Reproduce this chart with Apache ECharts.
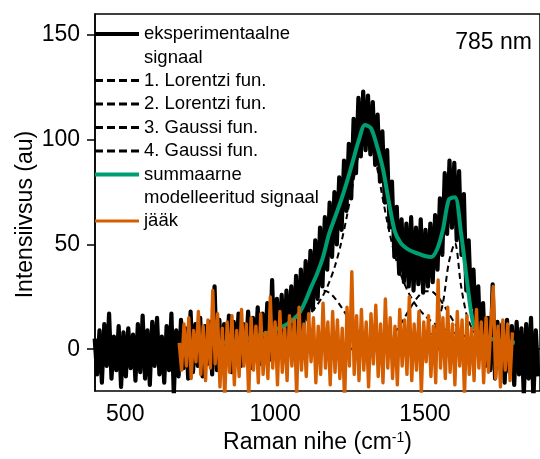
<!DOCTYPE html>
<html><head><meta charset="utf-8">
<script src="https://cdn.jsdelivr.net/npm/echarts@6/dist/echarts.min.js"></script>
<style>html,body{margin:0;padding:0;background:#fff}#c{width:540px;height:459px}</style>
</head><body><div id="c"></div>
<script>
const FONT = "'Liberation Sans', Arial, Helvetica, sans-serif";

// ---- experimental signal (x = expStart + i*expStep) ----
const expStart = 398, expStep = 8;
const expValues = [
  5,-12,9,-16,12,-8,17,-14,6,-10, 11,-18,8,-13,10,-9,7,-15,12,-11, 16,-14,9,-17,13,-8,15,-12,6,-16, 11,-10,17,-22,9,
  -13,14,-9,10,-14,18,-11,12,-8,15,-13,11,-7,13,-12,
  30,-10,14,-9,12,-6,16,-11,13,-5,
  17,-8,12,-4,18,-9,15,-3,20,-7,
  17,0,22,-5,33,-3,24,1,26,-2,
  28,4,30,3,35,6,38,9,42,14,
  47,19,52,24,58,30,63,38,70,44,
  75,50,82,57,90,66,98,72,110,84,
  120,92,123,95,121,93,118,88,112,80,
  104,70,95,58,80,44,68,36,62,32,
  60,30,63,28,58,31,62,27,57,30,
  60,32,64,38,72,45,84,55,90,58,
  89,52,85,45,74,28,52,20,38,8,
  30,-2,22,-8,15,-10,31,-14,13,-9,
  12,-16,14,-11,11,-17,13,-12,10,-22,
  12,-14,15,-24,9,-13
];

// ---- fit components and model (x = fitStart + i*fitStep) ----
const fitStart = 680, fitStep = 20;
const lorentz1 = [
  1.81,1.93,2.06,2.21,2.37,2.55,2.75,2.97,3.23,3.51,
  3.83,4.21,4.64,5.13,5.71,6.39,7.19,8.16,9.31,10.73,
  12.48,14.66,17.44,20.99,25.63,31.74,39.8,50.4,63.8,79.3,
  93.7,101.6,98.8,86.9,71.4,56.8,44.8,35.5,28.5,23.2,
  19.1,16.0,13.5,11.55,9.98,8.7,7.65,6.77,6.03,5.41,
  4.87,4.42,4.02,3.67,3.37,3.09,2.86
];
const lorentz2 = [
  0.06,0.06,0.06,0.06,0.07,0.07,0.07,0.08,0.08,0.09,
  0.09,0.10,0.10,0.11,0.12,0.12,0.13,0.14,0.15,0.16,
  0.18,0.19,0.21,0.23,0.25,0.27,0.30,0.33,0.37,0.41,
  0.47,0.53,0.61,0.71,0.83,0.99,1.20,1.49,1.88,2.45,
  3.31,4.71,7.17,11.93,22.0,41.6,50.6,30.7,16.0,9.14,
  5.76,3.92,2.83,2.13,1.66,1.33,1.09
];
const gauss3 = [
  0,0,0,0,0,0,0,0,0,0,
  0,0,0,0,0,0,0,0,0,0,
  0,0,0,0,0,0,0,0,0.02,0.05,
  0.13,0.31,0.70,1.47,2.82,4.99,8.14,12.25,16.98,21.7,
  25.5,27.7,27.7,25.5,21.7,16.98,12.25,8.14,4.99,2.82,
  1.47,0.70,0.31,0.13,0.05,0.02,0.01
];
const gauss4 = [
  0,0,0,0,0,0,0,0,0,0,
  0,0.07,0.17,0.38,0.80,1.57,2.88,4.9,7.8,11.5,
  15.9,20.3,24.3,27.0,28.0,27.0,24.3,20.3,15.9,11.5,
  7.8,4.9,2.88,1.57,0.80,0.38,0.17,0.07,0,0,
  0,0,0,0,0,0,0,0,0,0,
  0,0,0,0,0,0,0
];
const modelSum = [
  1.9,2.0,2.1,2.3,2.5,2.7,2.9,3.1,3.4,3.7,
  4.1,4.6,5.5,6.3,7.1,8.1,9.3,10.5,12.0,14.2,
  17.0,22.5,29.5,36.0,44.0,55.0,63.0,71.0,80.0,90.0,
  100.0,107.0,105.5,97.0,86.0,70.0,56.0,50.5,48.0,46.5,
  45.5,44.5,44.0,47.5,57.0,71.5,72.5,56.0,33.0,13.0,
  7.5,6.0,5.0,4.3,3.8,3.4,3.1
];

// ---- residual (x = resStart + i*resStep) ----
const resStart = 680, resStep = 8;
const residual = [
  3,-10,12,-8,15,-14,9,-6,18,-12,
  11,-15,14,-9,28,-7,17,-18,10,-24,
  13,-11,16,-17,9,-13,19,-8,12,-23,
  15,-10,11,-16,17,-12,8,-14,25,-9,
  13,-17,18,-11,10,-15,16,-8,14,-22,
  20,-10,12,-13,17,-6,15,-16,11,-12,
  22,-9,13,-17,18,-11,14,-14,10,-25,
  20,-8,37,-12,16,-15,19,-10,13,-18,
  17,-7,21,-13,12,-16,24,-9,15,-14,
  11,-17,19,-8,14,-12,25,-15,12,-10,
  18,-21,13,-6,16,-13,11,-16,33,-9,
  15,-14,20,-11,12,-17,18,-8,14,-22,
  16,-12,10,-15,19,-9,13,-16,15,-11,
  12,30,-14,11,-18,14,-10,12,-15,8
];

const xTicks = [500, 1000, 1500];
const yTicks = [0, 50, 100, 150];
const names = {
  exp: 'eksperimentaalne\nsignaal',
  l1: '1. Lorentzi fun.',
  l2: '2. Lorentzi fun.',
  g3: '3. Gaussi fun.',
  g4: '4. Gaussi fun.',
  sum: 'summaarne\nmodelleeritud signaal',
  res: 'jääk'
};

function pairs(start, step, arr) { return arr.map((v, i) => [start + i * step, v]); }

const GREEN = '#009E73', ORANGE = '#D55E00';
const LH = 23.5;
const dashIcon = 'path://M0,0h8v3h-8z M12,0h8v3h-8z M24,0h8v3h-8z M36,0h8v3h-8z';
// two-line entries: bar drawn at the first text line, tiny corner marks keep the icon box 44 x 47
const twoLineIcon = 'path://M0,0h0.01v0.01h-0.01z M0,9.75h44v4h-44z M43.99,46.99h0.01v0.01h-0.01z';
const legendDefs = [
  { name: names.exp, c: 34, icon: twoLineIcon, h: 2 * LH },
  { name: names.l1, c: 80.5, icon: dashIcon, h: 3 },
  { name: names.l2, c: 104, icon: dashIcon, h: 3 },
  { name: names.g3, c: 127.5, icon: dashIcon, h: 3 },
  { name: names.g4, c: 151, icon: dashIcon, h: 3 },
  { name: names.sum, c: 174.5, icon: twoLineIcon, h: 2 * LH },
  { name: names.res, c: 221, icon: 'rect', h: 3 }
];
const legends = legendDefs.map(d => ({
  show: true, data: [d.name], orient: 'vertical', left: 95,
  top: d.c - LH / 2,
  padding: 0, itemWidth: 44, itemHeight: d.h, icon: d.icon,
  itemStyle: { borderWidth: 0 }, selectedMode: false,
  textStyle: { fontFamily: FONT, fontSize: 18.5, color: '#000', lineHeight: LH }
}));

const dashStyle = { color: '#000', width: 2, type: [6, 4] };
const chart = echarts.init(document.getElementById('c'), null, { renderer: 'canvas' });
chart.setOption({
  animation: false,
  backgroundColor: '#fff',
  textStyle: { fontFamily: FONT },
  title: { text: '785 nm', right: 8, top: 31, padding: 0,
    textStyle: { fontFamily: FONT, fontSize: 23, fontWeight: 'normal', color: '#000' } },
  legend: legends,
  grid: { left: 95, right: -5, top: 14, bottom: 66, show: true, borderColor: '#000', borderWidth: 1.5 },
  xAxis: {
    type: 'value', min: 399, max: 1884,
    name: 'Raman nihe (cm{sup|-1})', nameLocation: 'middle', nameGap: 33,
    nameTextStyle: { fontFamily: FONT, fontSize: 23, color: '#000',
      rich: { sup: { fontFamily: FONT, fontSize: 14, color: '#000', verticalAlign: 'top' } } },
    axisLine: { show: true, lineStyle: { color: '#000', width: 1.5 } },
    axisTick: { show: true, customValues: xTicks, length: 8, lineStyle: { color: '#000', width: 1.5 } },
    axisLabel: { customValues: xTicks, formatter: v => String(v), fontFamily: FONT, fontSize: 23, color: '#000', margin: 12 },
    splitLine: { show: false }
  },
  yAxis: {
    type: 'value', min: -20, max: 160,
    name: 'Intensiivsus (au)', nameLocation: 'middle', nameGap: 58, nameMoveOverlap: false,
    nameTextStyle: { fontFamily: FONT, fontSize: 23, color: '#000', padding: [0, 24, 0, 0] },
    axisLine: { show: true, lineStyle: { color: '#000', width: 1.5 } },
    axisTick: { show: true, customValues: yTicks, length: 8, lineStyle: { color: '#000', width: 1.5 } },
    axisLabel: { customValues: yTicks, formatter: v => String(v), fontFamily: FONT, fontSize: 23, color: '#000', margin: 15 },
    splitLine: { show: false }
  },
  series: [
    { name: names.exp, type: 'line', data: pairs(expStart, expStep, expValues), symbol: 'none',
      color: '#000', lineStyle: { color: '#000', width: 4.2, join: 'round' }, z: 1 },
    { name: names.l1, type: 'line', data: pairs(fitStart, fitStep, lorentz1), symbol: 'none', smooth: 0.3,
      color: '#000', lineStyle: dashStyle, z: 2 },
    { name: names.l2, type: 'line', data: pairs(fitStart, fitStep, lorentz2), symbol: 'none', smooth: 0.3,
      color: '#000', lineStyle: dashStyle, z: 2 },
    { name: names.g3, type: 'line', data: pairs(fitStart, fitStep, gauss3), symbol: 'none', smooth: 0.3,
      color: '#000', lineStyle: dashStyle, z: 2 },
    { name: names.g4, type: 'line', data: pairs(fitStart, fitStep, gauss4), symbol: 'none', smooth: 0.3,
      color: '#000', lineStyle: dashStyle, z: 2 },
    { name: names.sum, type: 'line', data: pairs(fitStart, fitStep, modelSum), symbol: 'none', smooth: 0.3,
      color: GREEN, lineStyle: { color: GREEN, width: 4 }, z: 3 },
    { name: names.res, type: 'line', data: pairs(resStart, resStep, residual), symbol: 'none',
      color: ORANGE, lineStyle: { color: ORANGE, width: 3.4, join: 'round' }, z: 4 }
  ]
});
</script></body></html>
